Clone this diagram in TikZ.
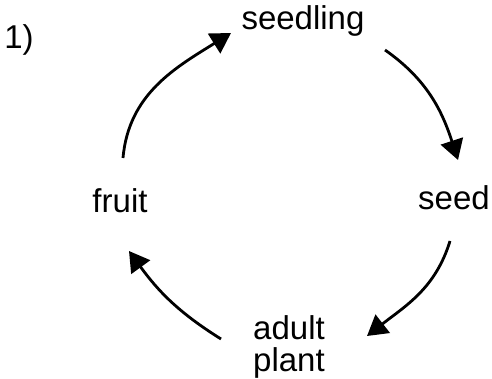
\documentclass[tikz,border=0pt]{standalone}
\usepackage{fontspec}
\setmainfont{Liberation Sans}
\usetikzlibrary{arrows.meta}
\begin{document}
\begin{tikzpicture}[x=1pt,y=1pt,
  lbl/.style={inner sep=0pt,anchor=base,font=\fontsize{33}{32}\selectfont,align=center},
  cyc/.style={line width=2.8pt,-{Triangle[length=20pt,width=23pt]}}]
\useasboundingbox (0,0) rectangle (492,379);
% labels
\node[lbl] (num) at (19,330) {1)};
\node[lbl] (seedling) at (303,349) {seedling};
\node[lbl] (seed) at (454,169) {seed};
\node[lbl] (fruit) at (120,166) {fruit};
\node[lbl] (adult) at (289,7) {adult\\plant};
% connector ends
\coordinate (fruitOut) at (123,221);
\coordinate (seedlingIn) at (231,346);
\coordinate (seedlingOut) at (385,329);
\coordinate (seedIn) at (458,219);
\coordinate (seedOut) at (450,138);
\coordinate (adultIn) at (367,43);
\coordinate (adultOut) at (221,40);
\coordinate (fruitIn) at (129,128);
% cycle arrows
\draw[cyc] (fruitOut) to[out=85,in=212] (seedlingIn);
\draw[cyc] (seedlingOut) to[out=-35,in=108] (seedIn);
\draw[cyc] (seedOut) to[out=253,in=38] (adultIn);
\draw[cyc] (adultOut) to[out=148,in=306] (fruitIn);
\end{tikzpicture}
\end{document}
